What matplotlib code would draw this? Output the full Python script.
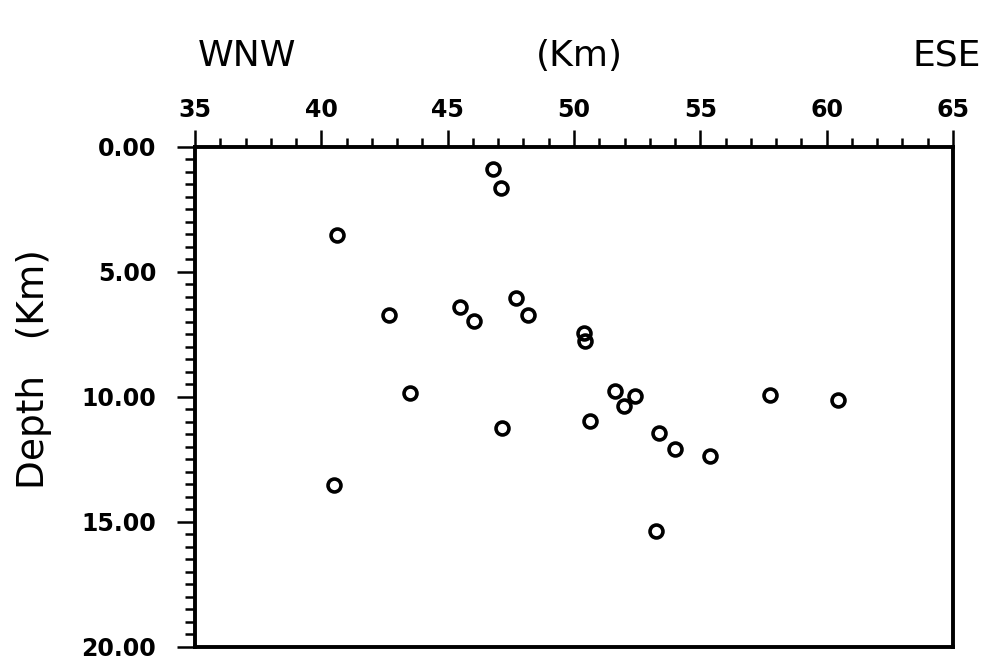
import matplotlib
matplotlib.use("Agg")
import matplotlib.pyplot as plt
from matplotlib.ticker import MultipleLocator, FormatStrFormatter

# distance along profile (km) and depth (km)
distance_km = [46.79, 47.12, 40.61, 42.67, 45.50, 46.05, 47.72, 48.17, 50.38, 50.45,
               43.52, 47.15, 50.62, 51.64, 52.42, 51.97, 57.74, 60.45, 53.36, 54.01,
               55.38, 53.26, 40.52]
depth_km = [0.91, 1.64, 3.54, 6.73, 6.41, 6.97, 6.03, 6.73, 7.45, 7.77,
            9.85, 11.25, 10.97, 9.77, 9.96, 10.38, 9.94, 10.12, 11.45, 12.08,
            12.36, 15.35, 13.52]
x_ticks = [35, 40, 45, 50, 55, 60, 65]
y_ticks = [0, 5, 10, 15, 20]

plt.rcParams['font.family'] = ['DejaVu Sans']

fig = plt.figure(figsize=(10.01, 6.61), dpi=100)
ax = fig.add_axes([195/1001, 1-647/661, (953-195)/1001, (647-146.7)/661])

ax.plot(distance_km, depth_km, linestyle='none', marker='o', markersize=9.3,
        markerfacecolor='none', markeredgecolor='black', markeredgewidth=2.6,
        clip_on=False)

ax.set_xlim(35, 65)
ax.set_ylim(20, 0)
ax.xaxis.tick_top()
ax.set_xticks(x_ticks)
ax.set_yticks(y_ticks)
ax.xaxis.set_minor_locator(MultipleLocator(1))
ax.yaxis.set_minor_locator(MultipleLocator(0.5))
ax.yaxis.set_major_formatter(FormatStrFormatter('%.2f'))

for s in ax.spines.values():
    s.set_linewidth(2.8)

ax.tick_params(axis='x', which='major', direction='out', length=12, width=1.8,
               pad=6, labelsize=17)
ax.tick_params(axis='x', which='minor', direction='out', length=6.5, width=1.8)
ax.tick_params(axis='y', which='major', direction='out', length=13, width=1.8,
               pad=15, labelsize=17)
ax.tick_params(axis='y', which='minor', direction='out', length=7, width=1.8)
for lab in ax.get_xticklabels() + ax.get_yticklabels():
    lab.set_fontweight('bold')

fig.text(247/1001, 1-66/661, 'WNW', ha='center', va='baseline', fontsize=26)
fig.text(579/1001, 1-66/661, '(Km)', ha='center', va='baseline', fontsize=26)
fig.text(947/1001, 1-66/661, 'ESE', ha='center', va='baseline', fontsize=26)
fig.text(34/1001, 1-369/661, 'Depth   (Km)', ha='center', va='center',
         rotation=90, fontsize=27)

fig.savefig('out.png', dpi=100)
